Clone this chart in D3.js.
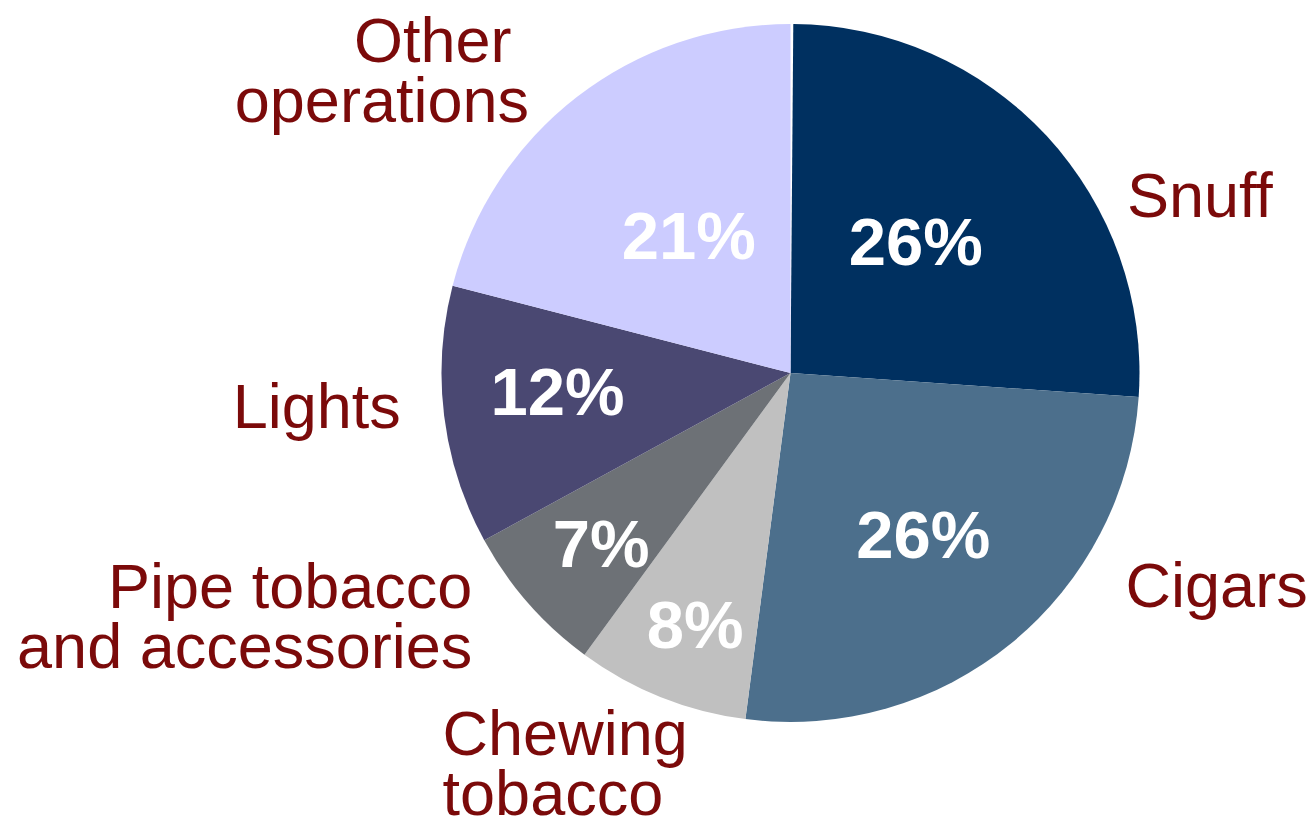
<!DOCTYPE html>
<html>
<head>
<meta charset="utf-8">
<script src="https://cdn.jsdelivr.net/npm/d3@7"></script>
<style>
  html, body { margin: 0; padding: 0; background: #ffffff; }
  svg { display: block; }
</style>
</head>
<body>
<svg id="chart" width="1311" height="821"></svg>
<script>
// Segment shares of sales, clockwise from 12 o'clock
const categories = ["Snuff", "Cigars", "Chewing tobacco", "Pipe tobacco and accessories", "Lights", "Other operations"];
const shares = [26, 26, 8, 7, 12, 21];
const labelLines = [["Snuff"], ["Cigars"], ["Chewing", "tobacco"], ["Pipe tobacco", "and accessories"], ["Lights"], ["Other\u00a0", "operations"]];

// Fill per segment
const sliceColors = ["#003060", "#4C6F8C", "#C0C0C0", "#6D7176", "#4A4872", "#CCCCFF"];

// Layout settings
const cx = 790.5, cy = 373, radius = 349;
const labelColor = "#7B0A0A";
const catFont = 63, catLine = 60;
const pctFont = 67;
// percentage label: distance along the slice's mid-angle as a fraction of the radius, plus angular nudge (deg)
const pctPlacement = [[0.52, -3.5], [0.60, 0], [0.77, -1], [0.73, -0.8], [0.67, 2.5], [0.49, 1.3]];
// category label: polar anchor (angle deg clockwise from top, distance px) and text alignment
const catPlacement = [
  { angle: 62.0, dist: 381, anchor: "start" },
  { angle: 122.2, dist: 396, anchor: "start" },
  { angle: 221.8, dist: 522, anchor: "start" },
  { angle: 232.7, dist: 400, anchor: "end" },
  { angle: 265.3, dist: 391, anchor: "end" },
  { angle: 319.3, dist: 401, anchor: "end" }
];

const data = categories.map((c, i) => ({ category: c, value: shares[i], lines: labelLines[i] }));

const svg = d3.select("#chart");
const g = svg.append("g").attr("transform", `translate(${cx},${cy})`);

const color = d3.scaleOrdinal().domain(categories).range(sliceColors);

const pie = d3.pie()
  .value(d => d.value)
  .sort(null)
  .startAngle(0.008)
  .endAngle(2 * Math.PI);

const arcs = pie(data);
const arc = d3.arc().innerRadius(0).outerRadius(radius);

g.selectAll("path.slice")
  .data(arcs)
  .join("path")
  .attr("class", "slice")
  .attr("d", arc)
  .attr("fill", d => color(d.data.category));

const polar = (angleRad, r) => [Math.sin(angleRad) * r, -Math.cos(angleRad) * r];

// Percentage labels inside slices
g.selectAll("text.pct")
  .data(arcs)
  .join("text")
  .attr("class", "pct")
  .each(function (d, i) {
    const [frac, nudge] = pctPlacement[i];
    const mid = (d.startAngle + d.endAngle) / 2 + nudge * Math.PI / 180;
    const [x, y] = polar(mid, radius * frac);
    d3.select(this).attr("x", x).attr("y", y);
  })
  .attr("text-anchor", "middle")
  .attr("dy", "0.35em")
  .attr("fill", "#ffffff")
  .attr("font-family", "'Liberation Sans', Arial, sans-serif")
  .attr("font-weight", "bold")
  .attr("font-size", pctFont)
  .text(d => `${d.data.value}%`);

// Category labels around the pie
g.selectAll("text.cat")
  .data(arcs)
  .join("text")
  .attr("class", "cat")
  .attr("fill", labelColor)
  .attr("font-family", "'Liberation Sans', Arial, sans-serif")
  .attr("font-size", catFont)
  .attr("xml:space", "preserve")
  .each(function (d, i) {
    const p = catPlacement[i];
    const [x, y] = polar(p.angle * Math.PI / 180, p.dist);
    const n = d.data.lines.length;
    const firstBase = y - (n - 1) * catLine / 2 + catFont * 0.716 / 2;
    const t = d3.select(this).attr("text-anchor", p.anchor);
    d.data.lines.forEach((line, k) => {
      t.append("tspan")
        .attr("x", x)
        .attr("y", firstBase + k * catLine)
        .text(line);
    });
  });
</script>
</body>
</html>
